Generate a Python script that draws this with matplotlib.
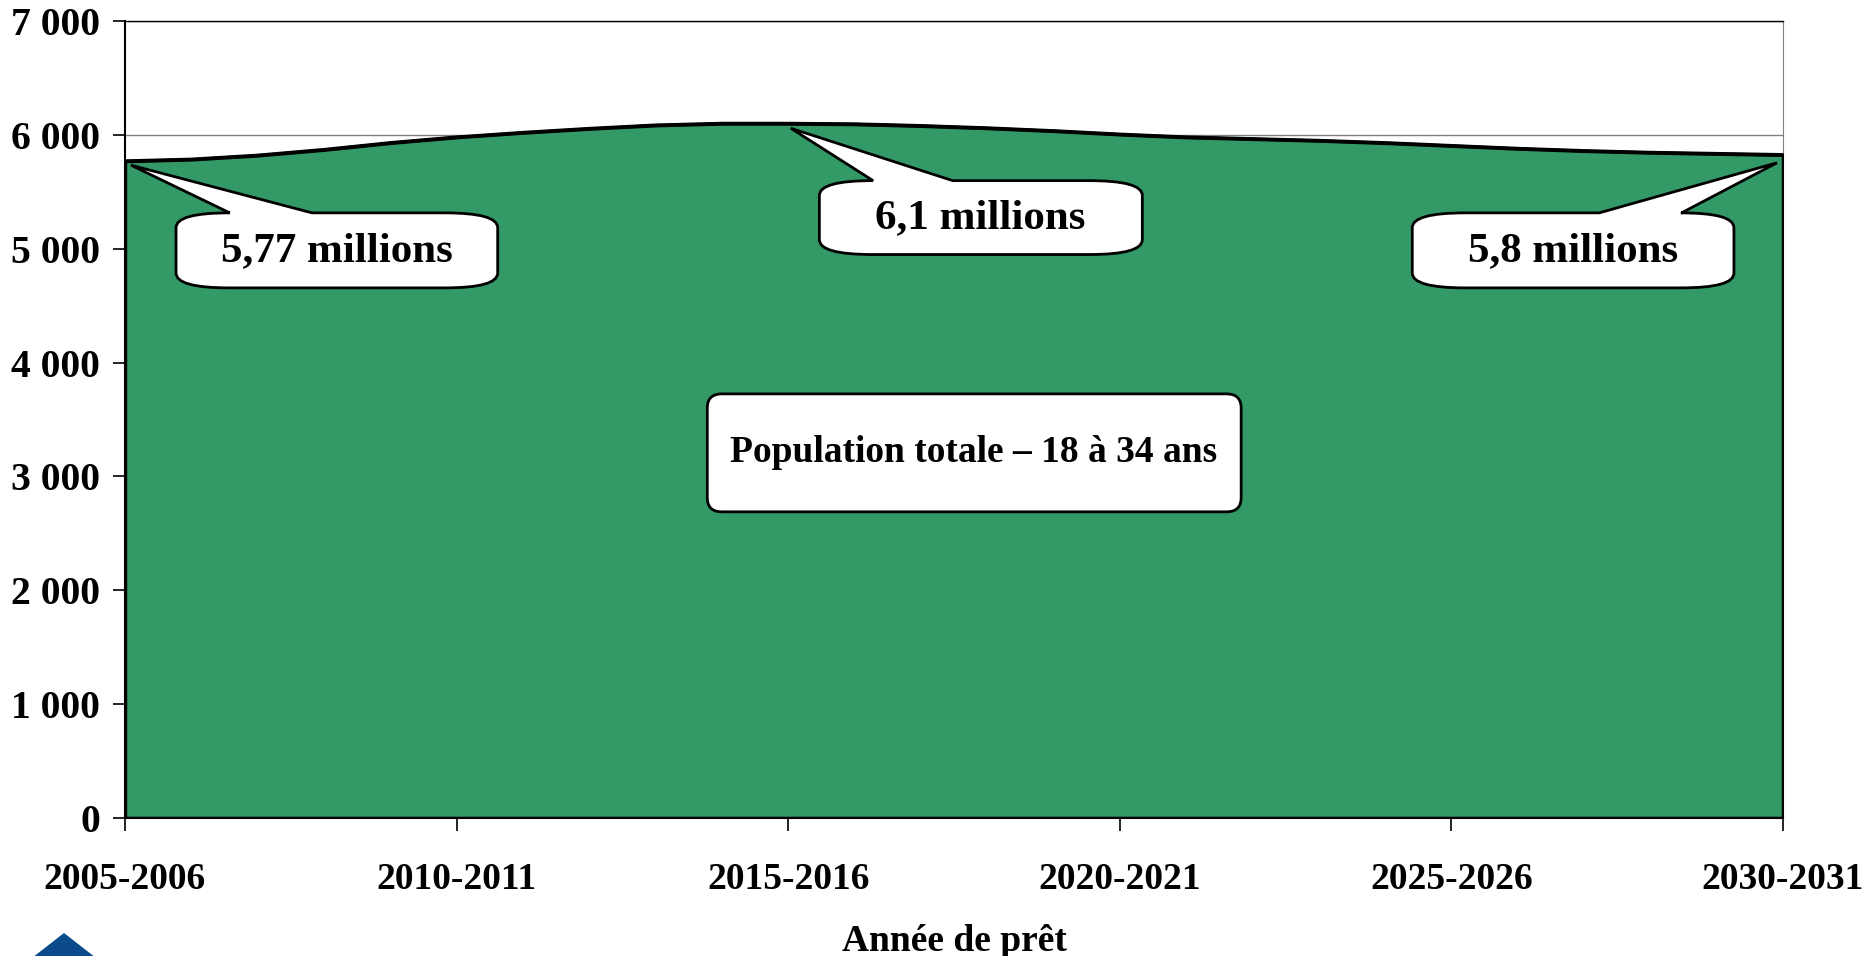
import matplotlib.pyplot as plt
from matplotlib.path import Path
from matplotlib.patches import PathPatch, Polygon

plt.rcParams['font.family'] = ['Liberation Serif', 'DejaVu Serif']
plt.rcParams['font.weight'] = 'bold'

# Population 18-34 ans (milliers), par année de prêt
years = [2005, 2006, 2007, 2008, 2009, 2010, 2011, 2012, 2013, 2014, 2015, 2016, 2017,
         2018, 2019, 2020, 2021, 2022, 2023, 2024, 2025, 2026, 2027, 2028, 2029, 2030]
population = [5770, 5785, 5820, 5870, 5930, 5980, 6020, 6055, 6085, 6100, 6100, 6095, 6080,
              6060, 6035, 6005, 5980, 5965, 5950, 5930, 5905, 5880, 5860, 5845, 5835, 5825]

tick_years = [2005, 2010, 2015, 2020, 2025, 2030]
tick_labels = ['2005-2006', '2010-2011', '2015-2016', '2020-2021', '2025-2026', '2030-2031']
y_ticks = [0, 1000, 2000, 3000, 4000, 5000, 6000, 7000]
y_labels = ['0', '1 000', '2 000', '3 000', '4 000', '5 000', '6 000', '7 000']

GREEN = '#339966'


def bubble(x0, x1, y0, y1, rx, ry, wedge=None):
    # rounded box, optional wedge on top edge: (base_start, base_end, tip_x, tip_y)
    verts = [(x0 + rx, y1)]
    codes = [Path.MOVETO]
    if wedge is not None:
        b0, b1, tx, ty = wedge
        verts += [(b0, y1), (tx, ty), (b1, y1)]
        codes += [Path.LINETO] * 3
    verts += [(x1 - rx, y1), (x1, y1), (x1, y1 - ry),
              (x1, y0 + ry), (x1, y0), (x1 - rx, y0),
              (x0 + rx, y0), (x0, y0), (x0, y0 + ry),
              (x0, y1 - ry), (x0, y1), (x0 + rx, y1), (x0 + rx, y1)]
    codes += [Path.LINETO, Path.CURVE3, Path.CURVE3,
              Path.LINETO, Path.CURVE3, Path.CURVE3,
              Path.LINETO, Path.CURVE3, Path.CURVE3,
              Path.LINETO, Path.CURVE3, Path.CURVE3, Path.CLOSEPOLY]
    return PathPatch(Path(verts, codes), facecolor='white', edgecolor='black',
                     lw=2, zorder=5)


fig = plt.figure(figsize=(18.68, 9.56), dpi=100)
ax = fig.add_axes([0.0669, 0.1444, 0.8876, 0.8336])

ax.fill_between(years, population, 0, facecolor=GREEN, edgecolor='black', lw=2.5, zorder=3)
ax.plot(years, population, color='black', lw=2.5, zorder=4)

ax.set_xlim(2005, 2030)
ax.set_ylim(0, 7000)
ax.set_xticks(tick_years)
ax.set_xticklabels(tick_labels, fontsize=27, fontweight='bold')
ax.set_yticks(y_ticks)
ax.set_yticklabels(y_labels, fontsize=28.5, fontweight='bold')
ax.tick_params(axis='x', length=9, width=1.2, pad=23)
ax.tick_params(axis='y', length=9, width=1.2, pad=9)
ax.yaxis.grid(True, color='#808080', lw=1, zorder=1)
ax.set_axisbelow(True)
for s in ['left', 'bottom']:
    ax.spines[s].set_linewidth(1.5)
ax.spines['top'].set_linewidth(1)
ax.spines['right'].set_color('#808080')
ax.set_xlabel('Année de prêt', fontsize=27, fontweight='bold', labelpad=19)

# callouts
ax.add_patch(bubble(2005.77, 2010.62, 4656, 5315, 0.8, 130,
                    (2006.58, 2007.82, 2005.09, 5734)))
ax.text(2008.2, 4975, '5,77 millions', ha='center', va='center', fontsize=31,
        fontweight='bold', zorder=6)

ax.add_patch(bubble(2015.47, 2020.34, 4949, 5598, 0.8, 130,
                    (2016.28, 2017.48, 2015.04, 6058)))
ax.text(2017.9, 5265, '6,1 millions', ha='center', va='center', fontsize=31,
        fontweight='bold', zorder=6)

ax.add_patch(bubble(2024.41, 2029.26, 4656, 5315, 0.8, 130,
                    (2027.23, 2028.47, 2029.91, 5755)))
ax.text(2026.84, 4975, '5,8 millions', ha='center', va='center', fontsize=31,
        fontweight='bold', zorder=6)

ax.add_patch(bubble(2013.78, 2021.83, 2689, 3725, 0.22, 125))
ax.text(2017.8, 3212, 'Population totale – 18 à 34 ans', ha='center', va='center',
        fontsize=27, fontweight='bold', zorder=6)

# logo fragment, bottom left
W, H = 1868, 956
logo = [(64, 933), (109, 968), (64, 1003), (19, 968)]
fig.patches.append(Polygon([(x / W, 1 - y / H) for x, y in logo], closed=True,
                           transform=fig.transFigure, facecolor='#0b4a8b',
                           edgecolor='none'))

fig.savefig('out.png', dpi=100)
